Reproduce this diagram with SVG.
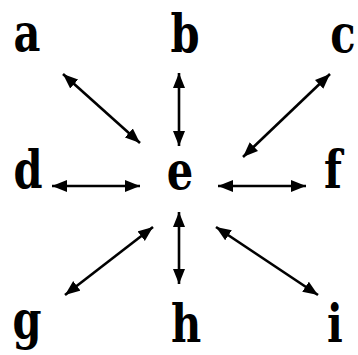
<svg xmlns="http://www.w3.org/2000/svg" width="358" height="355" viewBox="0 0 358 355">
<style>
.t{font-family:"DejaVu Serif","Liberation Serif",serif;font-size:52px;font-weight:bold;fill:#000;text-anchor:middle}
.c{stroke:#000;stroke-width:2.6;fill:none;marker-start:url(#ah);marker-end:url(#ah)}
</style>
<defs>
<marker id="ah" markerUnits="userSpaceOnUse" markerWidth="16" markerHeight="13" refX="15" refY="6" orient="auto-start-reverse" viewBox="0 0 16 12">
<path d="M0,0 L15,6 L0,12 z" fill="#000"/>
</marker>
</defs>
<rect width="358" height="355" fill="#fff"/>
<g id="connectors">
<line class="c" x1="63" y1="74" x2="140" y2="143"/>
<line class="c" x1="179" y1="73" x2="179" y2="146"/>
<line class="c" x1="330" y1="74" x2="243" y2="157"/>
<line class="c" x1="52" y1="186" x2="140" y2="186"/>
<line class="c" x1="218" y1="186" x2="306" y2="186"/>
<line class="c" x1="65" y1="295" x2="153" y2="227"/>
<line class="c" x1="179" y1="212" x2="179" y2="284"/>
<line class="c" x1="216" y1="227" x2="318" y2="295"/>
</g>
<g id="a" transform="translate(27,51) scale(0.8,1)"><text class="t">a</text></g>
<g id="b" transform="translate(185,52) scale(0.8,1)"><text class="t">b</text></g>
<g id="c" transform="translate(343,52) scale(0.8,1)"><text class="t">c</text></g>
<g id="d" transform="translate(28,188) scale(0.8,1)"><text class="t">d</text></g>
<g id="e" transform="translate(180,189) scale(0.8,1)"><text class="t">e</text></g>
<g id="f" transform="translate(333,188) scale(0.8,1)"><text class="t">f</text></g>
<g id="g" transform="translate(27,338) scale(0.8,1)"><text class="t">g</text></g>
<g id="h" transform="translate(186,342) scale(0.8,1)"><text class="t">h</text></g>
<g id="i" transform="translate(335,342) scale(0.8,1)"><text class="t">i</text></g>
</svg>
